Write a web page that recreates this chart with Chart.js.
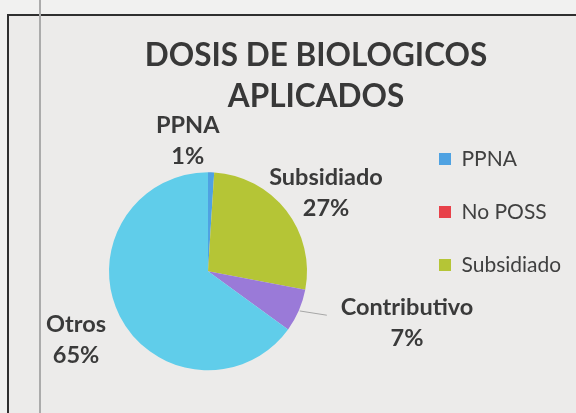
<!DOCTYPE html>
<html><head><meta charset="utf-8">
<script src="https://cdn.jsdelivr.net/npm/chart.js@4"></script>
<style>
html,body{margin:0;padding:0;width:576px;height:413px;overflow:hidden;background:#f1f1f0;}
#frame{position:absolute;left:7px;top:14px;width:640px;height:430px;border:2px solid #2f2f2f;background:#ecebea;}
#wrap{position:absolute;left:9px;top:16px;width:614px;height:410px;}
#pageline{position:absolute;left:39px;top:0;width:2px;height:413px;background:#ababab;}
</style></head><body>
<div id="frame"></div>
<div id="wrap"><canvas id="c" width="614" height="410" style="width:614px;height:410px"></canvas></div>
<div id="pageline"></div>
<script>
const categories = ['PPNA', 'No POSS', 'Subsidiado', 'Contributivo', 'Otros'];
const values = [1, 0, 27, 7, 65];
const colors = ['#4fa2e2', '#e8414a', '#b5c536', '#9a7ad8', '#60cdea'];
const titleLines = ['DOSIS DE BIOLOGICOS', 'APLICADOS'];
const legendCount = 3;

const sliceLabels = {
  id: 'sliceLabels',
  afterDatasetsDraw(chart, args, opts) {
    const meta = chart.getDatasetMeta(0);
    const data = chart.data.datasets[0].data;
    const total = data.reduce((a, b) => a + b, 0);
    const ctx = chart.ctx;
    ctx.save();
    ctx.font = 'bold ' + opts.size + 'px ' + opts.family;
    ctx.textAlign = 'center';
    ctx.textBaseline = 'middle';
    meta.data.forEach((arc, i) => {
      const v = data[i];
      const off = opts.offsets[i];
      if (!v || !off) return;
      const p = arc.getProps(['x', 'y', 'outerRadius', 'startAngle', 'endAngle'], true);
      const r = p.outerRadius;
      if (off[2]) {
        const a = (p.startAngle + p.endAngle) / 2;
        ctx.strokeStyle = opts.leaderColor;
        ctx.lineWidth = 1;
        ctx.beginPath();
        ctx.moveTo(p.x + Math.cos(a) * r * 1.01, p.y + Math.sin(a) * r * 1.01);
        ctx.lineTo(p.x + off[2][0] * r, p.y + off[2][1] * r);
        ctx.stroke();
      }
      const lx = p.x + off[0] * r, ly = p.y + off[1] * r;
      ctx.fillStyle = opts.color;
      ctx.fillText(chart.data.labels[i], lx, ly - opts.lineGap / 2);
      ctx.fillText(Math.round(v / total * 100) + '%', lx, ly + opts.lineGap / 2);
    });
    ctx.restore();
  }
};

Chart.defaults.font.family = 'Lato';

const chart = new Chart(document.getElementById('c'), {
  type: 'pie',
  data: {
    labels: categories,
    datasets: [{
      data: values,
      backgroundColor: colors,
      borderWidth: 0,
      radius: 99
    }]
  },
  options: {
    responsive: false,
    devicePixelRatio: 1,
    animation: false,
    events: [],
    layout: { padding: 0 },
    plugins: {
      title: {
        display: true,
        text: titleLines,
        color: '#383838',
        font: { family: 'Lato', size: 31.5, weight: 'bold', lineHeight: '41px' },
        padding: { top: 19.5, bottom: -1 }
      },
      subtitle: {
        display: true,
        position: 'right',
        fullSize: false,
        text: '',
        font: { size: 1, lineHeight: 1 },
        padding: { top: 0, bottom: 50 }
      },
      legend: {
        position: 'right',
        align: 'start',
        fullSize: false,
        labels: {
          boxWidth: 12,
          boxHeight: 12,
          padding: 32,
          color: '#404040',
          font: { family: 'Lato', size: 21 },
          filter: (item) => item.index < legendCount
        }
      },
      tooltip: { enabled: false },
      sliceLabels: {
        family: 'Lato',
        size: 23.5,
        color: '#3a3a3a',
        lineGap: 31,
        leaderColor: '#a6a6a6',
        offsets: [
          [-0.205, -1.321],
          null,
          [1.192, -0.790],
          [2.010, 0.520, [1.20, 0.444]],
          [-1.333, 0.697]
        ]
      }
    }
  },
  plugins: [sliceLabels]
});

const targetRight = 398;
const diff = chart.chartArea.right - targetRight;
chart.options.plugins.subtitle.padding = { top: 0, bottom: 50 + diff };
chart.update();
</script>
</body></html>
